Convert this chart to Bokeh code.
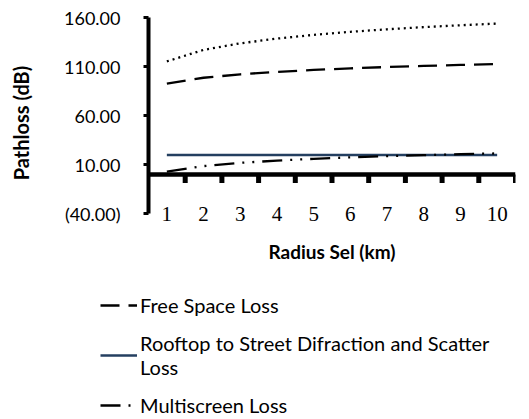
from bokeh.plotting import figure
from bokeh.layouts import column
from bokeh.models import (Range1d, FixedTicker, Span, Legend, LegendItem, LabelSet,
                          ColumnDataSource)
from bokeh.embed import file_html
from bokeh.resources import INLINE

radius = [1, 2, 3, 4, 5, 6, 7, 8, 9, 10]
radius_labels = ["1", "2", "3", "4", "5", "6", "7", "8", "9", "10"]
free_space = [92.6, 98.6, 102.1, 104.6, 106.6, 108.2, 109.5, 110.7, 111.7, 112.6]
rooftop = [19.9, 19.9, 19.9, 19.9, 19.9, 19.9, 19.9, 19.9, 19.9, 19.9]
multiscreen = [3.0, 8.6, 11.9, 14.2, 16.0, 17.5, 18.7, 19.8, 20.7, 21.5]
total = [115.3, 127.0, 133.7, 138.5, 142.3, 145.4, 148.0, 150.2, 152.1, 153.8]
y_ticks = [-40, 10, 60, 110, 160]
y_tick_labels = ["(40.00)", "10.00", "60.00", "110.00", "160.00"]
y_min, y_max = -40, 160
y_frame_low = -55

FONT = "Lato"

FS_STYLE = dict(line_color="black", line_width=2.3, line_dash="19 9")
RT_STYLE = dict(line_color="#243F60", line_width=2.5)
MS_STYLE = dict(line_color="black", line_width=2.3, line_dash="20 8 2 8 2 8")
TOT_STYLE = dict(line_color="black", line_width=2.3, line_dash="2 4")

p = figure(width=529, height=288, output_backend="svg", toolbar_location=None,
           x_range=Range1d(0.5, 10.5), y_range=Range1d(y_frame_low, y_max),
           min_border_left=148, min_border_right=14, min_border_top=17, min_border_bottom=60)
p.outline_line_color = None
p.grid.visible = False

# y axis
p.yaxis.bounds = (y_min, y_max)
p.yaxis.ticker = FixedTicker(ticks=y_ticks)
p.yaxis.major_label_overrides = dict(zip(y_ticks, y_tick_labels))
p.yaxis.axis_line_width = 4
p.yaxis.axis_line_color = "black"
p.yaxis.major_tick_line_width = 3
p.yaxis.major_tick_out = 5
p.yaxis.major_tick_in = 0
p.yaxis.minor_tick_line_color = None
p.yaxis.minor_tick_out = 0
p.yaxis.major_label_text_font = FONT
p.yaxis.major_label_text_font_size = "18px"
p.yaxis.major_label_text_color = "black"
p.yaxis.major_label_standoff = 23
p.yaxis.axis_label = "Pathloss (dB)"
p.yaxis.axis_label_text_font = FONT
p.yaxis.axis_label_text_font_style = "bold"
p.yaxis.axis_label_text_font_size = "20px"
p.yaxis.axis_label_text_color = "black"
p.yaxis.axis_label_standoff = 28

# x axis (title only)
p.xaxis.ticker = FixedTicker(ticks=[])
p.xaxis.axis_line_color = None
p.xaxis.major_tick_line_color = None
p.xaxis.minor_tick_line_color = None
p.xaxis.major_tick_out = 0
p.xaxis.minor_tick_out = 0
p.xaxis.axis_label = "Radius Sel (km)"
p.xaxis.axis_label_text_font = FONT
p.xaxis.axis_label_text_font_style = "bold"
p.xaxis.axis_label_text_font_size = "19px"
p.xaxis.axis_label_text_color = "black"
p.xaxis.axis_label_standoff = 11

# horizontal axis line at zero and its tick marks between categories
p.add_layout(Span(location=0, dimension="width", line_color="black", line_width=4.5))
bounds = [r + 0.5 for r in radius]
p.segment(x0=bounds, y0=[0] * len(bounds), x1=bounds, y1=[-8.7] * len(bounds),
          line_color="black", line_width=5)

# category labels at the low position
lab_src = ColumnDataSource(dict(x=radius, y=[y_min] * len(radius), t=radius_labels))
p.add_layout(LabelSet(x="x", y="y", text="t", source=lab_src, text_align="center",
                      text_baseline="middle", text_font=FONT, text_font_size="21px",
                      text_color="black"))

p.line(radius, free_space, **FS_STYLE)
p.line(radius, rooftop, **RT_STYLE)
p.line(radius, multiscreen, **MS_STYLE)
p.line(radius, total, **TOT_STYLE)

# legend panel below the chart
q = figure(width=529, height=131, output_backend="svg", toolbar_location=None,
           x_range=Range1d(-20, -19), y_range=Range1d(0, 1),
           x_axis_location=None, y_axis_location=None,
           min_border_left=0, min_border_right=0, min_border_top=0, min_border_bottom=0)
q.frame_align = False
q.outline_line_color = None
q.grid.visible = False
l_fs = q.line(radius, free_space, **FS_STYLE)
l_rt = q.line(radius, rooftop, **RT_STYLE)
l_ms = q.line(radius, multiscreen, **MS_STYLE)

legend = Legend(items=[
    LegendItem(label="Free Space Loss", renderers=[l_fs]),
    LegendItem(label="Rooftop to Street Difraction and Scatter\nLoss", renderers=[l_rt]),
    LegendItem(label="Multiscreen Loss", renderers=[l_ms]),
], location=(100, 2))
legend.border_line_color = None
legend.background_fill_alpha = 0
legend.padding = 0
legend.margin = 0
legend.spacing = 14
legend.glyph_width = 37
legend.glyph_height = 22
legend.label_height = 22
legend.label_standoff = 3
legend.label_text_font = FONT
legend.label_text_font_size = "20px"
legend.label_text_color = "black"
q.add_layout(legend, "center")

layout = column(p, q, spacing=0)
open("out.html", "w").write(file_html(layout, INLINE))
